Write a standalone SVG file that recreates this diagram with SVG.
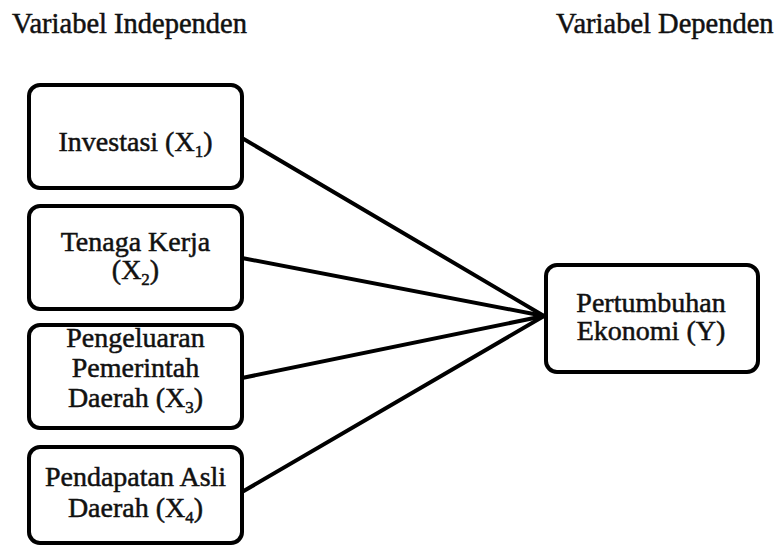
<svg xmlns="http://www.w3.org/2000/svg" width="778" height="548" viewBox="0 0 778 548">
<style>
.box{fill:#fff;stroke:#000;stroke-width:4;}
.t{font-family:"Liberation Serif","Times New Roman",serif;font-size:28px;fill:#111;stroke:#111;stroke-width:0.5;text-anchor:middle;}
.h{font-family:"Liberation Serif","Times New Roman",serif;font-size:28.5px;fill:#111;stroke:#111;stroke-width:0.5;}
.sub{font-size:17px;}
.conn{stroke:#000;stroke-width:4;stroke-linecap:round;fill:none;}
</style>
<rect width="778" height="548" fill="#fff"/>
<text class="h" x="12" y="33">Variabel Independen</text>
<text class="h" x="556" y="33">Variabel Dependen</text>
<g id="connectors">
<line class="conn" x1="242" y1="138" x2="544" y2="316"/>
<line class="conn" x1="242" y1="258" x2="544" y2="316"/>
<line class="conn" x1="242" y1="378" x2="544" y2="316"/>
<line class="conn" x1="242" y1="492" x2="544" y2="316"/>
</g>
<g id="x1">
<rect class="box" x="29" y="85" width="213" height="103" rx="11"/>
<text class="t" x="135.5" y="151">Investasi (X<tspan class="sub" dy="6">1</tspan><tspan dy="-6">)</tspan></text>
</g>
<g id="x2">
<rect class="box" x="29" y="206" width="213" height="103" rx="11"/>
<text class="t" x="135.5" y="251">Tenaga Kerja</text>
<text class="t" x="135.5" y="279">(X<tspan class="sub" dy="6">2</tspan><tspan dy="-6">)</tspan></text>
</g>
<g id="x3">
<rect class="box" x="29" y="325" width="213" height="103" rx="11"/>
<text class="t" x="135.5" y="347">Pengeluaran</text>
<text class="t" x="135.5" y="377">Pemerintah</text>
<text class="t" x="135.5" y="407">Daerah (X<tspan class="sub" dy="6">3</tspan><tspan dy="-6">)</tspan></text>
</g>
<g id="x4">
<rect class="box" x="29" y="447" width="213" height="96" rx="11"/>
<text class="t" x="135.5" y="486">Pendapatan Asli</text>
<text class="t" x="135.5" y="517">Daerah (X<tspan class="sub" dy="6">4</tspan><tspan dy="-6">)</tspan></text>
</g>
<g id="y">
<rect class="box" x="546" y="265" width="212" height="107" rx="11"/>
<text class="t" x="651" y="312">Pertumbuhan</text>
<text class="t" x="651" y="340">Ekonomi (Y)</text>
</g>
</svg>
